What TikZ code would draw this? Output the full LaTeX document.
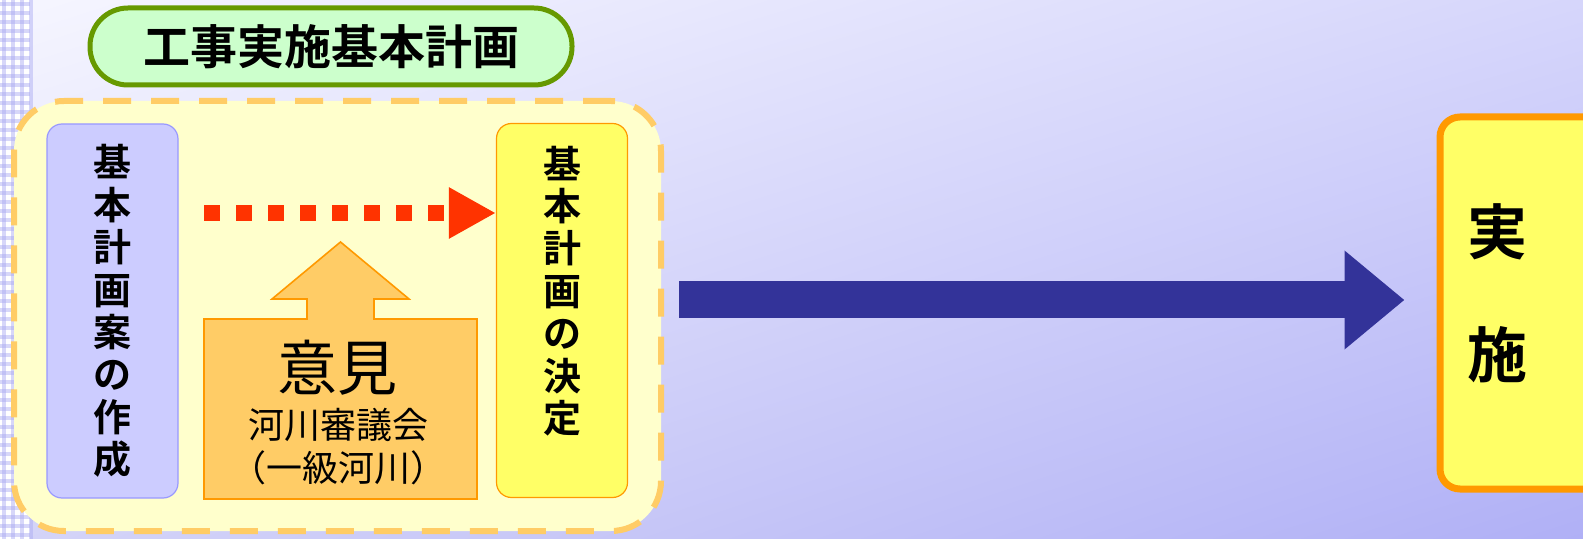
\documentclass[tikz,border=0pt]{standalone}
\usepackage{fontspec}
\setmainfont{Noto Sans CJK JP}[BoldFont=* Bold]
\usetikzlibrary{arrows.meta,shadings}

\definecolor{bgA}{HTML}{F6F6FF}
\definecolor{bgB}{HTML}{D6D6FB}
\definecolor{bgC}{HTML}{D4D4F8}
\definecolor{bgD}{HTML}{B0B0F6}
\definecolor{chk}{HTML}{A8A8F2}
\definecolor{titlefill}{HTML}{CCFFCC}
\definecolor{titledraw}{HTML}{669900}
\definecolor{framefill}{HTML}{FFFFCC}
\definecolor{framedraw}{HTML}{FFCC66}
\definecolor{draftfill}{HTML}{CCCCFF}
\definecolor{draftdraw}{HTML}{9999FF}
\definecolor{lemon}{HTML}{FFFF66}
\definecolor{amber}{HTML}{FF9900}
\definecolor{opinion}{HTML}{FFCC66}
\definecolor{dotred}{HTML}{FF3300}
\definecolor{navy}{HTML}{333399}

\begin{document}
\begin{tikzpicture}[x=0.5pt,y=-0.5pt,
    vbox/.style={rounded corners=7.5pt, line width=0.6pt, inner sep=0pt,
      minimum width=65.5pt, minimum height=187pt},
    vtext/.style={font=\bfseries\fontsize{19}{21.2}\selectfont, align=center, inner sep=0pt},
    dotarrow/.style={dotred, line width=8pt, dash pattern=on 8pt off 8pt,
      -{Triangle[length=23.5pt,width=24pt]}},
    bigarrow/.style={navy, line width=18.5pt, -{Triangle[length=30pt,width=47.5pt]}}]

    \useasboundingbox (0,0) rectangle (1583,539);
    \clip (0,0) rectangle (1583,539);

    % background
    \shade[upper left=bgA, upper right=bgB, lower left=bgC, lower right=bgD]
        (0,0) rectangle (1583,539);
    \fill[white] (0,0) rectangle (30,539);
    \foreach \c in {0,...,3}
        \fill[chk, opacity=0.45] (\c*9+2,0) rectangle ++(4,539);
    \foreach \r in {0,...,59}
        \fill[chk, opacity=0.45] (0,\r*9+2) rectangle ++(30,4);

    % title
    \node[draw=titledraw, fill=titlefill, line width=2.5pt, rounded corners=19pt,
        minimum width=241pt, minimum height=38.5pt,
        font=\bfseries\fontsize{23.5}{26}\selectfont] (title) at (331,46.5) {工事実施基本計画};

    % frame
    \node[draw=framedraw, fill=framefill, line width=3pt, dash pattern=on 14pt off 10pt,
        rounded corners=25pt, minimum width=323.5pt, minimum height=215pt] (frame) at (337.5,316) {};

    \node[vbox, draw=draftdraw, fill=draftfill, vtext] (draft) at (112.5,311)
        {基\\本\\計\\画\\案\\の\\作\\成};

    \node[vbox, draw=amber, fill=lemon] (decide) at (562,310.5) {};
    \node[vtext] (decidetext) at (562,291) {基\\本\\計\\画\\の\\決\\定};

    \coordinate (dotS) at (204,213);
    \draw[dotarrow] (dotS) -- (dotS -| decide.west);

    % opinion arrow
    \draw[amber, fill=opinion, line width=0.8pt] (204,499) -- (204,319) -- (307,319) -- (307,299)
        -- (272,299) -- (340.5,242) -- (409,299) -- (374,299) -- (374,319) -- (477,319)
        -- (477,499) -- cycle;
    \node[font=\fontsize{30}{32}\selectfont, inner sep=0pt] (opin) at (337,368) {意見};
    \node[font=\fontsize{18}{20}\selectfont, inner sep=0pt] (council) at (338,425) {河川審議会};
    \node[font=\fontsize{18}{20}\selectfont, inner sep=0pt] (river) at (338,468) {（一級河川）};

    % implementation
    \node[draw=amber, fill=lemon, line width=3.5pt, rounded corners=10pt,
        minimum width=85pt, minimum height=186pt] (jisshi) at (1525,303) {};
    \node[font=\bfseries\fontsize{30}{61.5}\selectfont, align=center, inner sep=0pt] (jisshitext)
        at (1497,293) {実\\施};

    \coordinate (go) at (679,300);
    \draw[bigarrow, shorten >=16pt] (go) -- (go -| jisshi.west);

\end{tikzpicture}
\end{document}
